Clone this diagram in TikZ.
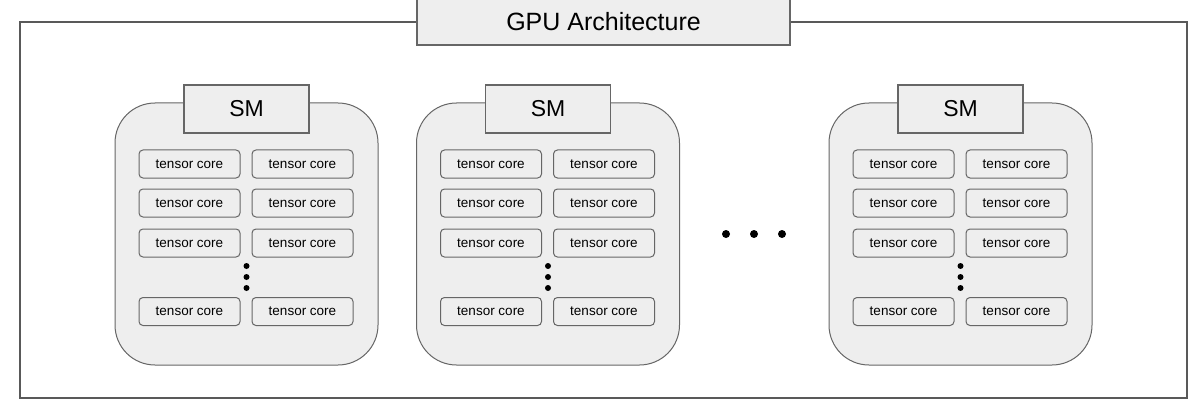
\documentclass[tikz,border=0pt]{standalone}
\usepackage{fontspec}
\setmainfont{Liberation Sans}
\definecolor{boxfill}{HTML}{EEEEEE}
\definecolor{outerline}{HTML}{595959}
\definecolor{boxline}{HTML}{666666}
\tikzset{
  outerframe/.style={draw=outerline, line width=2pt},
  titlebox/.style={draw=boxline, fill=boxfill, line width=1.2pt, minimum width=373pt, minimum height=46pt, inner sep=0pt, font=\fontsize{25}{30}\selectfont},
  smbox/.style={draw=boxline, fill=boxfill, line width=1pt, rounded corners=40pt, minimum width=263pt, minimum height=262pt, inner sep=0pt},
  smlabel/.style={draw=boxline, fill=boxfill, line width=1.2pt, minimum width=125pt, minimum height=48pt, inner sep=0pt, font=\fontsize{23}{27}\selectfont},
  corebox/.style={draw=boxline, fill=boxfill, line width=1pt, rounded corners=4pt, minimum width=101pt, minimum height=28pt, inner sep=0pt, font=\fontsize{13.5}{16}\selectfont},
  dotmark/.style={circle, fill=black, inner sep=0pt, minimum size=6pt},
}
\begin{document}
\begin{tikzpicture}[x=1pt,y=-1pt]
\useasboundingbox (0,0) rectangle (1202,417);
\coordinate (otl) at (20,22);
\coordinate (obr) at (1187,398);
\draw[outerframe] (otl) rectangle (obr);
\node[titlebox] (gpu) at (603.5,22) {GPU Architecture};
\foreach \i/\dx in {1/0, 2/301.5, 3/714} {
  \node[smbox] (sm\i) at (246.5+\dx,234) {};
  \node[smlabel] (sm\i lbl) at (246.5+\dx,109) {SM};
  \foreach \r/\y in {1/164, 2/203, 3/243, 4/311.5} {
    \node[corebox] (sm\i c\r a) at (189.5+\dx,\y) {tensor core};
    \node[corebox] (sm\i c\r b) at (302.5+\dx,\y) {tensor core};
  }
  \foreach \k/\y in {1/266, 2/277, 3/288} {
    \node[dotmark] (sm\i d\k) at (246.5+\dx,\y) {};
  }
}
\foreach \k/\x in {1/726, 2/754, 3/782} {
  \node[dotmark, minimum size=8pt] (hd\k) at (\x,234) {};
}
\end{tikzpicture}
\end{document}
